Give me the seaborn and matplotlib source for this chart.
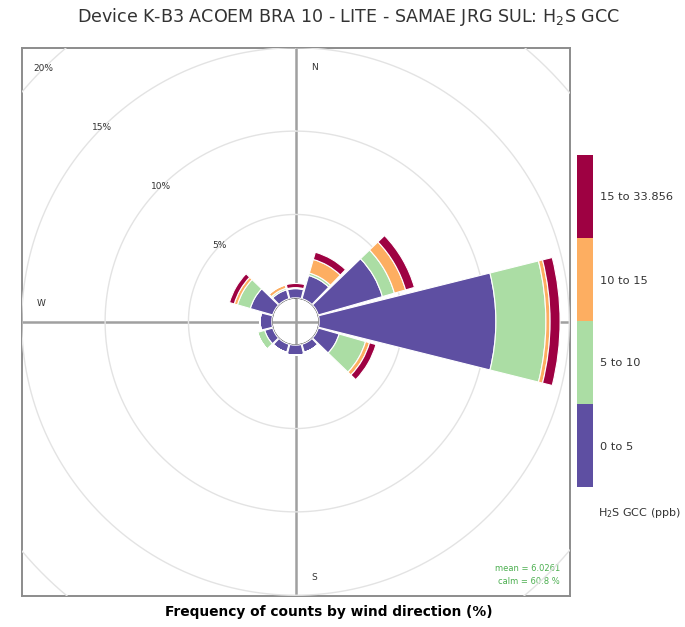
import numpy as np
import pandas as pd
import matplotlib
matplotlib.use("Agg")
import matplotlib.pyplot as plt
import seaborn as sns
from matplotlib.colors import ListedColormap, BoundaryNorm
from matplotlib.cm import ScalarMappable

# ---------------- data ----------------
directions = [0, 30, 60, 90, 120, 150, 180, 210, 240, 270, 300, 330]
bin_labels = ["0 to 5", "5 to 10", "10 to 15", "15 to 33.856"]
freq_0_5 = [0.55, 1.45, 4.00, 10.60, 1.30, 0.50, 0.60, 0.50, 0.50, 0.70, 1.40, 0.55]
freq_5_10 = [0.03, 0.15, 0.75, 3.00, 1.65, 0.00, 0.00, 0.00, 0.45, 0.00, 0.80, 0.10]
freq_10_15 = [0.03, 0.85, 0.70, 0.25, 0.25, 0.00, 0.00, 0.00, 0.00, 0.00, 0.20, 0.20]
freq_15_max = [0.25, 0.45, 0.55, 0.60, 0.40, 0.00, 0.00, 0.00, 0.00, 0.00, 0.30, 0.02]
bin_colors = ["#5E4FA2", "#ABDDA4", "#FDAE61", "#9E0142"]
grid_pcts = [5, 10, 15, 20]
compass = ["N", "E", "S", "W"]
mean_text = "mean = 6.0261"
calm_text = "calm = 60.8 %"
title = "Device K-B3 ACOEM BRA 10 - LITE - SAMAE JRG SUL: H$_2$S GCC"
xlabel = "Frequency of counts by wind direction (%)"
legend_title = "H$_2$S GCC (ppb)"

df = pd.DataFrame({"dir": directions, bin_labels[0]: freq_0_5, bin_labels[1]: freq_5_10,
                   bin_labels[2]: freq_10_15, bin_labels[3]: freq_15_max})

# ---------------- style ----------------
sns.set_theme(style="white")
plt.rcParams["font.family"] = ["DejaVu Sans"]

W, H = 685, 627
fig = plt.figure(figsize=(W / 100, H / 100), dpi=100)

cx, cy = 295.5, 321.5     # centre of rose (pixels, from top-left)
half = 274.0              # half side of square frame
px_per_pct = 16.67
offset = 23.7 / px_per_pct

# frame axes (behind)
ax_box = fig.add_axes([(cx - half) / W, (H - cy - half) / H, 2 * half / W, 2 * half / H])
ax_box.set_xlim(-half, half)
ax_box.set_ylim(-half, half)
ax_box.set_xticks([])
ax_box.set_yticks([])
ax_box.set_facecolor("white")
for s in ax_box.spines.values():
    s.set_color("#8c8c8c")
    s.set_linewidth(1.4)
ax_box.axhline(0, color="#a0a0a0", lw=1.8, zorder=1)
ax_box.axvline(0, color="#a0a0a0", lw=1.8, zorder=1)

# polar axes (on top, transparent)
R = half * np.sqrt(2)
ax = fig.add_axes([(cx - R) / W, (H - cy - R) / H, 2 * R / W, 2 * R / H], projection="polar")
ax.set_facecolor("none")
ax.patch.set_alpha(0)
ax.set_theta_zero_location("N")
ax.set_theta_direction(-1)
ax.set_rorigin(-offset)
ax.set_ylim(0, R / px_per_pct - offset)
ax.set_xticks([])
ax.set_yticks([])
ax.grid(False)
for s in ax.spines.values():
    s.set_visible(False)

clip = ax_box.patch

# grid circles
th = np.linspace(0, 2 * np.pi, 721)
for g in grid_pcts:
    ln, = ax.plot(th, np.full_like(th, g), color="#e3e3e3", lw=1.0, zorder=1)
    ln.set_clip_path(clip)
    ax.text(np.deg2rad(315), g, f"{g}%", fontsize=6.5, color="#333333",
            ha="center", va="center", zorder=2)

# stacked bars
theta = np.deg2rad(df["dir"].to_numpy())
width = np.deg2rad(28)
bottom = np.zeros(len(df))
for lab, col in zip(bin_labels, bin_colors):
    vals = df[lab].to_numpy()
    bars = ax.bar(theta, vals, width=width, bottom=bottom, color=col,
                  edgecolor="white", linewidth=0.8, zorder=3)
    for b in bars:
        b.set_clip_path(clip)
    bottom = bottom + vals

# compass labels
comp_pos = {"N": (19, 254), "E": (254, 18), "S": (19, -256), "W": (-254, 18)}
for c in compass:
    x, y = comp_pos[c]
    ax_box.text(x, y, c, fontsize=6.5, color="#333333", ha="center", va="center", zorder=0)

# mean / calm
ax_box.text(0.983, 0.050, mean_text, transform=ax_box.transAxes, ha="right", va="center",
            fontsize=6, color="#4caf50")
ax_box.text(0.983, 0.026, calm_text, transform=ax_box.transAxes, ha="right", va="center",
            fontsize=6, color="#4caf50")

# colour key
cax = fig.add_axes([577 / W, (H - 487) / H, 16 / W, 332 / H])
cmap = ListedColormap(bin_colors)
norm = BoundaryNorm(np.arange(len(bin_labels) + 1), cmap.N)
cb = fig.colorbar(ScalarMappable(norm=norm, cmap=cmap), cax=cax,
                  ticks=np.arange(len(bin_labels)) + 0.5)
cb.ax.minorticks_off()
cb.ax.set_yticklabels(bin_labels)
cb.ax.tick_params(which="both", length=0, labelsize=8.2, pad=5, labelcolor="#333333")
cb.outline.set_visible(False)
fig.text(598 / W, 1 - 513 / H, legend_title, fontsize=8, color="#333333",
         ha="left", va="center")

fig.text(348 / W, 1 - 17 / H, title, fontsize=12.6, color="#333333", ha="center", va="center")
fig.text(329 / W, 1 - 612 / H, xlabel, fontsize=9.9, fontweight="bold", color="black",
         ha="center", va="center")

fig.savefig("out.png", dpi=100)
